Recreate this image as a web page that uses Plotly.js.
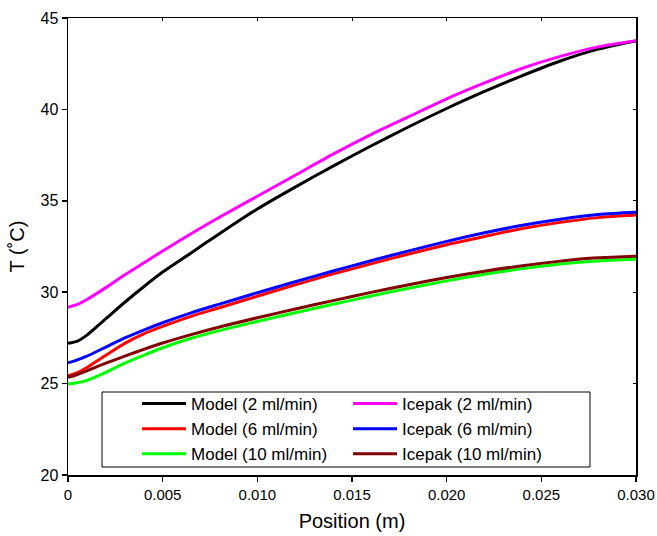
<!DOCTYPE html>
<html><head><meta charset="utf-8">
<script src="https://cdn.plot.ly/plotly-3.0.1.min.js"></script>
<style>html,body{margin:0;padding:0;background:#fff}#plot{width:657px;height:536px}</style>
</head><body><div id="plot"></div>
<script>
var position = [0, 0.0005, 0.001, 0.002, 0.003, 0.004, 0.005, 0.0065, 0.008, 0.010, 0.012, 0.014, 0.016, 0.018, 0.020, 0.022, 0.024, 0.026, 0.028, 0.030];
var model2   = [27.2, 27.32, 27.65, 28.55, 29.45, 30.3, 31.1, 32.15, 33.2, 34.55, 35.75, 36.9, 38.0, 39.05, 40.05, 40.98, 41.85, 42.65, 43.3, 43.75];
var icepak2  = [29.18, 29.33, 29.6, 30.25, 30.95, 31.6, 32.25, 33.2, 34.1, 35.25, 36.4, 37.55, 38.62, 39.6, 40.58, 41.45, 42.25, 42.9, 43.42, 43.76];
var model6   = [25.43, 25.6, 25.88, 26.55, 27.2, 27.72, 28.13, 28.68, 29.15, 29.78, 30.4, 31.0, 31.55, 32.09, 32.6, 33.05, 33.48, 33.82, 34.08, 34.22];
var icepak6  = [26.13, 26.3, 26.5, 27.0, 27.5, 27.93, 28.33, 28.87, 29.35, 29.97, 30.57, 31.16, 31.72, 32.26, 32.78, 33.25, 33.66, 33.99, 34.25, 34.37];
var model10  = [24.98, 25.05, 25.18, 25.62, 26.12, 26.55, 26.96, 27.48, 27.9, 28.4, 28.88, 29.34, 29.79, 30.22, 30.62, 30.98, 31.29, 31.54, 31.71, 31.8];
var icepak10 = [25.34, 25.5, 25.7, 26.12, 26.5, 26.87, 27.22, 27.68, 28.1, 28.6, 29.08, 29.54, 29.99, 30.41, 30.8, 31.15, 31.45, 31.7, 31.88, 31.97];
var names = ["Model (2 ml/min)", "Icepak (2 ml/min)", "Model (6 ml/min)", "Icepak (6 ml/min)", "Model (10 ml/min)", "Icepak (10 ml/min)"];
var colors = ["#000000", "#ff00ff", "#ff0000", "#0000ff", "#00ff00", "#800000"];
var xTickVals = [0, 0.005, 0.010, 0.015, 0.020, 0.025, 0.030];
var xTickText = ["0", "0.005", "0.010", "0.015", "0.020", "0.025", "0.030"];
var yTickVals = [20, 25, 30, 35, 40, 45];

var series = [model2, icepak2, model6, icepak6, model10, icepak10];
var traces = series.map(function(s, i){
  return {x: position, y: s, name: names[i], mode: 'lines', type: 'scatter',
          line: {color: colors[i], width: 3, shape: 'spline', smoothing: 0.8}};
});
traces.push({x: [], y: [], xaxis: 'x2', yaxis: 'y2', showlegend: false, hoverinfo: 'skip'});

var F = '"Liberation Sans", Arial, sans-serif';
var layout = {
  width: 657, height: 536,
  margin: {l: 68, r: 21, t: 18, b: 61},
  paper_bgcolor: '#fff', plot_bgcolor: '#fff',
  showlegend: true,
  font: {family: F, color: '#000'},
  xaxis: {range: [0, 0.030], tickvals: xTickVals, ticktext: xTickText, ticks: 'outside', ticklen: 5,
          tickwidth: 1.5, tickcolor: '#000', showline: true, linecolor: '#000', linewidth: 1.5,
          showgrid: false, zeroline: false, tickfont: {size: 15, family: F},
          title: {text: 'Position (m)', font: {size: 20, family: F}, standoff: 12}},
  yaxis: {range: [20, 45], tickvals: yTickVals, ticks: 'outside', ticklen: 5,
          tickwidth: 1.5, tickcolor: '#000', showline: true, linecolor: '#000', linewidth: 1.5,
          showgrid: false, zeroline: false, tickfont: {size: 16, family: F},
          title: {text: 'T (˚C)', font: {size: 20, family: F}, standoff: 10}},
  xaxis2: {overlaying: 'x', side: 'top', anchor: 'y2', range: [0, 0.030], tickvals: xTickVals,
           ticks: 'inside', ticklen: 3, tickcolor: '#000', showticklabels: false, showline: true,
           linecolor: '#000', linewidth: 1.5, showgrid: false, zeroline: false},
  yaxis2: {overlaying: 'y', side: 'right', anchor: 'x2', range: [20, 45], tickvals: yTickVals,
           ticks: 'inside', ticklen: 3, tickcolor: '#000', showticklabels: false, showline: true,
           linecolor: '#000', linewidth: 1.5, showgrid: false, zeroline: false},
  shapes: [{type: 'rect', xref: 'paper', yref: 'paper', x0: 0.0599, x1: 0.919, y0: 0.0175, y1: 0.1816,
            line: {color: '#000', width: 1}, fillcolor: 'rgba(0,0,0,0)', layer: 'above'}],
  legend: {orientation: 'h', x: 0.1215, y: 0.1947, xanchor: 'left', yanchor: 'top',
           bgcolor: 'rgba(255,255,255,0)', borderwidth: 0,
           font: {size: 17, family: F}, entrywidth: 152, itemwidth: 44, tracegroupgap: 0}
};
Plotly.newPlot('plot', traces, layout, {displayModeBar: false, staticPlot: true});
</script></body></html>
